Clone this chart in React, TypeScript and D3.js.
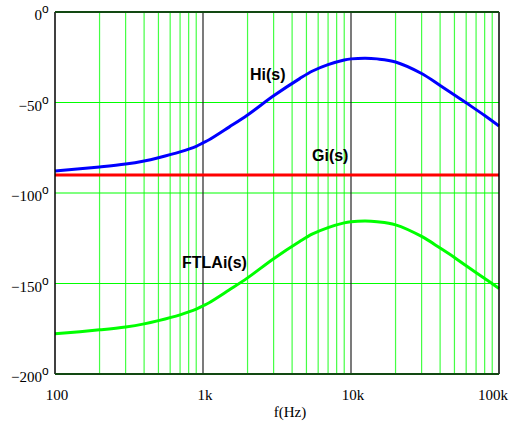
import React from 'react';
import * as d3 from 'd3';

// frequency points (Hz)
const freqs = [100, 200, 300, 400, 500, 700, 900, 1000, 1100, 1500, 2000, 3000, 4500, 5500, 7000, 9000, 10000, 12500, 15000, 20000, 30000, 40000, 50000, 60000, 80000, 100000];

// phase in degrees
const hiPhase = [-87.8, -85.6, -84.0, -82.3, -80.5, -77.3, -74.2, -72.3, -70.6, -63.6, -56.9, -46.3, -36.8, -32.6, -29.1, -26.5, -25.9, -25.5, -25.9, -27.6, -34.0, -40.6, -45.8, -50.2, -57.2, -63.0];
const ftlaPhase = [-177.8, -175.6, -174.0, -172.3, -170.5, -167.3, -164.2, -162.3, -160.6, -153.6, -146.9, -136.3, -126.8, -122.6, -119.1, -116.5, -115.9, -115.5, -115.9, -117.6, -124.0, -130.4, -135.6, -140.2, -147.2, -152.8];
const giFreqs = [100, 100000];
const giPhase = [-90, -90];

const yTicks = [0, -50, -100, -150, -200];
const xTicks = [100, 1000, 10000, 100000];
const xTickLabels = ['100', '1k', '10k', '100k'];

const W = 510;
const H = 434;
const left = 55, right = 499, top = 12, bottom = 374;

const App = () => {
    const x = d3.scaleLog().domain([100, 100000]).range([left, right]);
    const y = d3.scaleLinear().domain([-200, 0]).range([bottom, top]);

    const line = d3.line<[number, number]>()
        .x(d => x(d[0]))
        .y(d => y(d[1]))
        .curve(d3.curveCatmullRom.alpha(0.5));

    const hiPath = line(freqs.map((f, i) => [f, hiPhase[i]]));
    const ftlaPath = line(freqs.map((f, i) => [f, ftlaPhase[i]]));
    const giPath = line(giFreqs.map((f, i) => [f, giPhase[i]]));

    // minor log grid 2..9 in each decade
    const minor: number[] = [];
    [100, 1000, 10000].forEach(dec => {
        for (let k = 2; k <= 9; k++) minor.push(dec * k);
    });

    const serif = '"Liberation Serif", "Times New Roman", serif';
    const sans = '"Liberation Sans", Arial, sans-serif';

    return (
        <svg width={W} height={H} style={{ position: 'absolute', left: 0, top: 0, background: '#fff' }}>
            {/* vertical minor grid */}
            {minor.map(f => (
                <line key={'v' + f} x1={x(f)} x2={x(f)} y1={top} y2={bottom} stroke="#44ff44" strokeWidth={1.2} />
            ))}
            {/* horizontal grid */}
            {yTicks.slice(1, -1).map(t => (
                <line key={'h' + t} x1={left} x2={right} y1={y(t)} y2={y(t)} stroke="#00ff00" strokeWidth={1.2} />
            ))}
            {/* decade lines */}
            {[1000, 10000].map(f => (
                <line key={'d' + f} x1={x(f)} x2={x(f)} y1={top} y2={bottom} stroke="#222" strokeWidth={1.2} />
            ))}

            {/* curves */}
            <path d={giPath || ''} fill="none" stroke="#ff0000" strokeWidth={3} />
            <path d={hiPath || ''} fill="none" stroke="#0000ff" strokeWidth={3} />
            <path d={ftlaPath || ''} fill="none" stroke="#00ff00" strokeWidth={3} />

            {/* frame */}
            <line x1={left} x2={left} y1={top} y2={bottom} stroke="#000" strokeWidth={1.5} />
            <line x1={right} x2={right} y1={top} y2={bottom} stroke="#000" strokeWidth={1.5} />
            <line x1={left} x2={right} y1={top} y2={top} stroke="#124812" strokeWidth={1.8} />
            <line x1={left} x2={right} y1={bottom} y2={bottom} stroke="#124812" strokeWidth={1.8} />

            {/* y tick labels */}
            {yTicks.map(t => (
                <text key={'yt' + t} x={42} y={y(t) + 8} textAnchor="end" fontFamily={serif} fontSize={15} fill="#000">
                    {t < 0 ? '\u2212' + Math.abs(t) : String(t)}
                </text>
            ))}
            {yTicks.map(t => (
                <text key={'yd' + t} x={42} y={y(t) + 1} fontFamily={sans} fontSize={12} fill="#000">o</text>
            ))}

            {/* x tick labels */}
            {xTicks.map((f, i) => (
                <text key={'xt' + f} x={Math.min(x(f) + 2, W - 17)} y={400} textAnchor="middle" fontFamily={serif} fontSize={15} fill="#000">
                    {xTickLabels[i]}
                </text>
            ))}
            <text x={290} y={417} textAnchor="middle" fontFamily={serif} fontSize={15} fill="#000">f(Hz)</text>

            {/* curve labels */}
            <text x={250} y={80} fontFamily={sans} fontSize={16} fontWeight="bold" fill="#000">Hi(s)</text>
            <text x={312} y={161} fontFamily={sans} fontSize={16} fontWeight="bold" fill="#000">Gi(s)</text>
            <text x={182} y={268} fontFamily={sans} fontSize={16} fontWeight="bold" fill="#000">FTLAi(s)</text>
        </svg>
    );
};

export default App;
